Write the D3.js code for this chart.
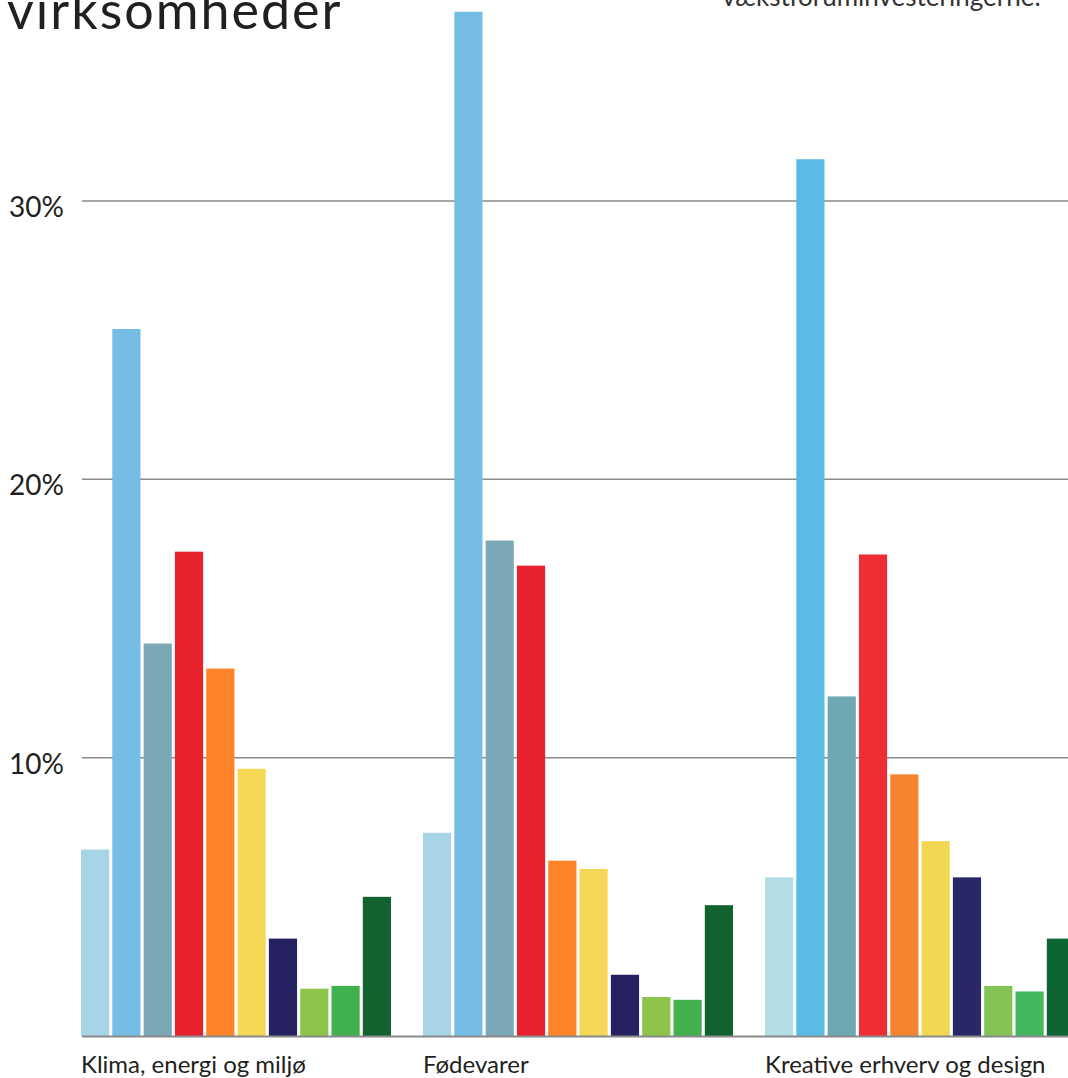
<!DOCTYPE html>
<html>
<head>
<meta charset="utf-8">
<script src="https://cdn.jsdelivr.net/npm/d3@7"></script>
<style>
  body { margin: 0; background: #fff; }
  svg { display: block; }
  .tick-label, .cat-label, .title, .note { font-family: Lato, "Open Sans", sans-serif; }
</style>
</head>
<body>
<div id="chart"></div>
<script>
'use strict';

// categories (x groups) and the ten series per group
var categories = ['Klima, energi og miljø', 'Fødevarer', 'Kreative erhverv og design'];
var series = ['s1', 's2', 's3', 's4', 's5', 's6', 's7', 's8', 's9', 's10'];

// percent values per category
var klimaValues    = [6.7, 25.4, 14.1, 17.4, 13.2, 9.6, 3.5, 1.7, 1.8, 5.0];
var foedeValues    = [7.3, 36.8, 17.8, 16.9, 6.3, 6.0, 2.2, 1.4, 1.3, 4.7];
var kreativeValues = [5.7, 31.5, 12.2, 17.3, 9.4, 7.0, 5.7, 1.8, 1.6, 3.5];

var yTicks = [10, 20, 30];

// colours (the third group in the source is printed with slightly different inks)
var colorsA = ['#a8d4e8', '#75bde5', '#7aa9b5', '#e8222d', '#fe8228', '#f6d857', '#262261', '#8fc44b', '#41b14f', '#11622e'];
var colorsB = ['#b3dde5', '#5bbbe7', '#6fa8b2', '#ee2d34', '#f58430', '#f2d852', '#282866', '#84c457', '#42b75b', '#0e6534'];

var data = [
  { cat: categories[0], values: klimaValues, colors: colorsA },
  { cat: categories[1], values: foedeValues, colors: colorsA },
  { cat: categories[2], values: kreativeValues, colors: colorsB }
];

var width = 1068, height = 1078;

var svg = d3.select('#chart').append('svg')
    .attr('width', width)
    .attr('height', height);

var y = d3.scaleLinear()
  .domain([0, 30])
  .range([1036, 201]);

var x0 = d3.scaleBand()
  .domain(categories)
  .range([81, 81 + 342 * categories.length]);

var x1 = d3.scaleBand()
  .domain(series)
  .range([0, 310])
  .paddingInner(0.1);

// gridlines
svg.append('g')
  .attr('class', 'grid')
  .selectAll('line')
  .data(yTicks)
  .enter()
  .append('line')
  .attr('x1', 82)
  .attr('x2', width)
  .attr('y1', function(d) { return y(d); })
  .attr('y2', function(d) { return y(d); })
  .attr('stroke', '#8a8a8a')
  .attr('stroke-width', 1.5);

svg.append('g')
  .selectAll('text')
  .data(yTicks)
  .enter()
  .append('text')
  .attr('class', 'tick-label')
  .attr('x', 9)
  .attr('y', function(d) { return y(d) + 16; })
  .attr('font-size', 28)
  .attr('fill', '#231f20')
  .text(function(d) { return d + '%'; });

// bars
var groups = svg.append('g')
  .selectAll('g')
  .data(data)
  .enter()
  .append('g')
  .attr('transform', function(d) { return 'translate(' + x0(d.cat) + ',0)'; });

groups.selectAll('rect')
  .data(function(d) {
    return d.values.map(function(v, i) { return { key: series[i], value: v, color: d.colors[i] }; });
  })
  .enter()
  .append('rect')
  .attr('x', function(d) { return x1(d.key); })
  .attr('width', x1.bandwidth())
  .attr('y', function(d) { return y(d.value); })
  .attr('height', function(d) { return y(0) - y(d.value); })
  .attr('fill', function(d) { return d.color; });

// baseline
svg.append('line')
  .attr('x1', 82)
  .attr('x2', width)
  .attr('y1', y(0) + 0.5)
  .attr('y2', y(0) + 0.5)
  .attr('stroke', '#8a8a8a')
  .attr('stroke-width', 2);

// category labels
svg.append('g')
  .selectAll('text')
  .data(categories)
  .enter()
  .append('text')
  .attr('class', 'cat-label')
  .attr('x', function(d) { return x0(d); })
  .attr('y', 1073)
  .attr('font-size', 24)
  .attr('fill', '#231f20')
  .text(function(d) { return d; });

// cropped title and note at the top (the source image is cut there)
svg.append('text')
  .attr('class', 'title')
  .attr('x', 7)
  .attr('y', 29)
  .attr('font-size', 52)
  .attr('letter-spacing', 2)
  .attr('fill', '#231f20')
  .text('virksomheder');

svg.append('text')
  .attr('class', 'note')
  .attr('x', 722)
  .attr('y', 6)
  .attr('font-size', 26)
  .attr('fill', '#333')
  .text('vækstforuminvesteringerne.');
</script>
</body>
</html>
